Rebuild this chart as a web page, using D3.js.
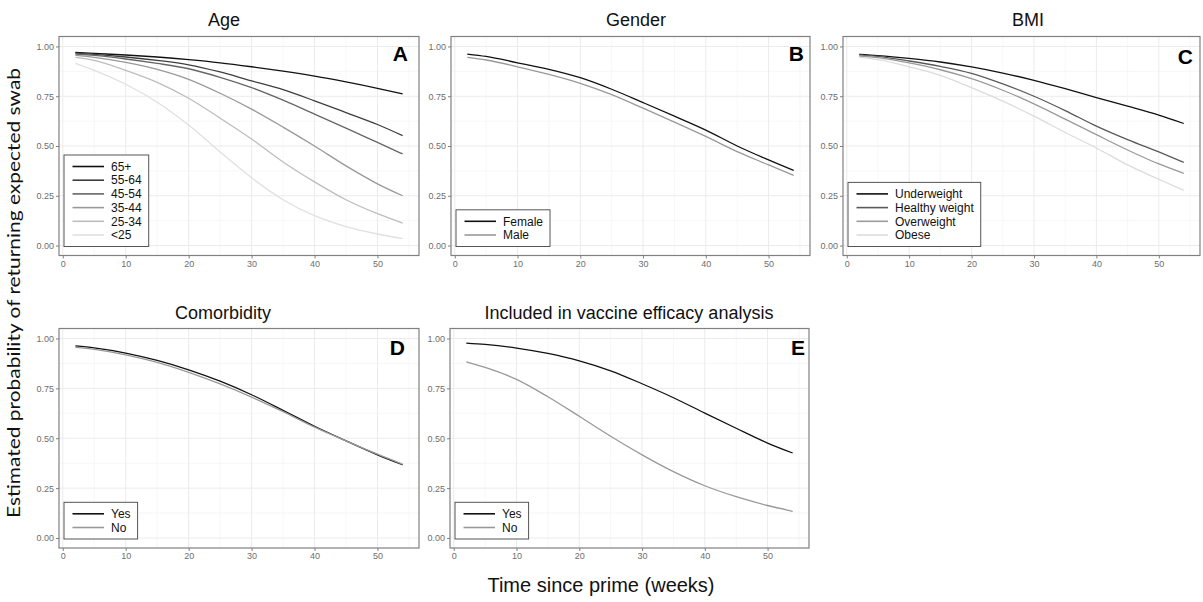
<!DOCTYPE html>
<html>
<head>
<meta charset="utf-8">
<script src="https://cdn.jsdelivr.net/npm/d3@7"></script>
<style>
body { margin: 0; background: #fff; }
text { font-family: "Liberation Sans", Arial, sans-serif; }
</style>
</head>
<body>
<div id="chart"></div>
<script>

// time points (weeks since prime)
var weeks = [2, 5, 10, 15, 20, 25, 30, 35, 40, 45, 50, 54];

// A - age
var ageNames = ["65+", "55-64", "45-54", "35-44", "25-34", "<25"];
var age65plus = [0.970, 0.965, 0.957, 0.947, 0.934, 0.918, 0.898, 0.876, 0.851, 0.822, 0.790, 0.762];
var age55_64  = [0.966, 0.960, 0.947, 0.930, 0.908, 0.872, 0.827, 0.783, 0.727, 0.668, 0.608, 0.552];
var age45_54  = [0.962, 0.955, 0.937, 0.915, 0.888, 0.845, 0.793, 0.730, 0.660, 0.590, 0.518, 0.460];
var age35_44  = [0.955, 0.945, 0.920, 0.885, 0.835, 0.765, 0.685, 0.595, 0.500, 0.400, 0.310, 0.250];
var age25_34  = [0.945, 0.930, 0.880, 0.820, 0.740, 0.640, 0.535, 0.420, 0.320, 0.230, 0.160, 0.113];
var ageUnder25 = [0.915, 0.880, 0.810, 0.720, 0.605, 0.470, 0.340, 0.230, 0.150, 0.095, 0.058, 0.035];

// B - gender
var genderNames = ["Female", "Male"];
var female = [0.962, 0.950, 0.918, 0.885, 0.843, 0.785, 0.718, 0.650, 0.580, 0.500, 0.430, 0.377];
var male   = [0.945, 0.932, 0.898, 0.860, 0.815, 0.758, 0.690, 0.620, 0.548, 0.472, 0.405, 0.352];

// C - BMI
var bmiNames = ["Underweight", "Healthy weight", "Overweight", "Obese"];
var underweight = [0.960, 0.954, 0.940, 0.922, 0.897, 0.866, 0.830, 0.788, 0.743, 0.700, 0.655, 0.613];
var healthy     = [0.958, 0.950, 0.927, 0.900, 0.865, 0.812, 0.750, 0.678, 0.600, 0.532, 0.470, 0.418];
var overweight  = [0.952, 0.944, 0.917, 0.883, 0.838, 0.780, 0.712, 0.635, 0.557, 0.480, 0.410, 0.363];
var obese       = [0.945, 0.934, 0.898, 0.855, 0.793, 0.725, 0.650, 0.568, 0.490, 0.405, 0.333, 0.277];

// D - comorbidity
var yesNo = ["Yes", "No"];
var comorbYes = [0.963, 0.953, 0.927, 0.890, 0.843, 0.786, 0.718, 0.640, 0.560, 0.487, 0.417, 0.367];
var comorbNo  = [0.955, 0.945, 0.918, 0.880, 0.830, 0.772, 0.706, 0.633, 0.556, 0.487, 0.420, 0.370];

// E - included in vaccine efficacy analysis
var vaccYes = [0.977, 0.970, 0.952, 0.925, 0.888, 0.838, 0.773, 0.703, 0.626, 0.550, 0.476, 0.426];
var vaccNo  = [0.883, 0.855, 0.795, 0.708, 0.610, 0.510, 0.417, 0.333, 0.262, 0.207, 0.163, 0.134];

// axis ticks
var xTicks = [0, 10, 20, 30, 40, 50];
var xMinor = [5, 15, 25, 35, 45, 55];
var yTicks = [0, 0.25, 0.5, 0.75, 1];
var yMinor = [0.125, 0.375, 0.625, 0.875];

// grey shades
var grey6 = ["#111111", "#3e3e3e", "#666666", "#999999", "#bdbdbd", "#e0e0e0"];
var grey4 = ["#111111", "#5a5a5a", "#9a9a9a", "#dcdcdc"];
var grey2 = ["#111111", "#999999"];


/***** drawing area *****/

var W = 1203, H = 602;

var svg = d3.select("#chart")
    .append("svg")
    .attr("width", W)
    .attr("height", H);

svg.append("rect").attr("width", W).attr("height", H).attr("fill", "#fff");

var panels = [
    {title: "Age", tx: 224, ty: 25.5, letter: "A", lx: 408, ly: 61,
     l: 59, r: 419, t: 36.5, b: 255.5,
     names: ageNames, series: [age65plus, age55_64, age45_54, age35_44, age25_34, ageUnder25], colors: grey6},
    {title: "Gender", tx: 636, ty: 25.5, letter: "B", lx: 804, ly: 61,
     l: 451, r: 810, t: 36.5, b: 255.5,
     names: genderNames, series: [female, male], colors: grey2},
    {title: "BMI", tx: 1028, ty: 25.5, letter: "C", lx: 1193, ly: 64,
     l: 843, r: 1200, t: 36.5, b: 255.5,
     names: bmiNames, series: [underweight, healthy, overweight, obese], colors: grey4},
    {title: "Comorbidity", tx: 223, ty: 319, letter: "D", lx: 405, ly: 355,
     l: 59, r: 419, t: 328.5, b: 548,
     names: yesNo, series: [comorbYes, comorbNo], colors: grey2},
    {title: "Included in vaccine efficacy analysis", tx: 629, ty: 319, letter: "E", lx: 805, ly: 355,
     l: 450, r: 809, t: 328.5, b: 548,
     names: yesNo, series: [vaccYes, vaccNo], colors: grey2}
];

panels.forEach(function(p){

    var x = d3.scaleLinear().domain([-0.6, 56.6]).range([p.l, p.r]);
    var y = d3.scaleLinear().domain([-0.05, 1.05]).range([p.b, p.t]);

    var g = svg.append("g");

    // grid
    g.selectAll(".xminor").data(xMinor.filter(function(d){ return x(d) < p.r; })).enter()
        .append("line")
        .attr("x1", function(d){ return x(d); }).attr("x2", function(d){ return x(d); })
        .attr("y1", p.t).attr("y2", p.b)
        .attr("stroke", "#f4f4f4").attr("stroke-width", 0.7);
    g.selectAll(".yminor").data(yMinor).enter()
        .append("line")
        .attr("y1", function(d){ return y(d); }).attr("y2", function(d){ return y(d); })
        .attr("x1", p.l).attr("x2", p.r)
        .attr("stroke", "#f4f4f4").attr("stroke-width", 0.7);
    g.selectAll(".xmajor").data(xTicks).enter()
        .append("line")
        .attr("x1", function(d){ return x(d); }).attr("x2", function(d){ return x(d); })
        .attr("y1", p.t).attr("y2", p.b)
        .attr("stroke", "#ebebeb").attr("stroke-width", 1);
    g.selectAll(".ymajor").data(yTicks).enter()
        .append("line")
        .attr("y1", function(d){ return y(d); }).attr("y2", function(d){ return y(d); })
        .attr("x1", p.l).attr("x2", p.r)
        .attr("stroke", "#ebebeb").attr("stroke-width", 1);

    // curves
    var line = d3.line()
        .x(function(d, i){ return x(weeks[i]); })
        .y(function(d){ return y(d); })
        .curve(d3.curveMonotoneX);

    p.series.forEach(function(s, i){
        g.append("path")
            .attr("d", line(s))
            .attr("fill", "none")
            .attr("stroke", p.colors[i])
            .attr("stroke-width", 1.3);
    });

    // border
    g.append("rect")
        .attr("x", p.l).attr("y", p.t)
        .attr("width", p.r - p.l).attr("height", p.b - p.t)
        .attr("fill", "none").attr("stroke", "#808080").attr("stroke-width", 1.2);

    // axes
    var ax = g.append("g").attr("transform", "translate(0," + p.b + ")")
        .call(d3.axisBottom(x).tickValues(xTicks).tickSize(3).tickPadding(2));
    var ay = g.append("g").attr("transform", "translate(" + p.l + ",0)")
        .call(d3.axisLeft(y).tickValues(yTicks).tickFormat(d3.format(".2f")).tickSize(3).tickPadding(2));
    [ax, ay].forEach(function(a){
        a.select(".domain").remove();
        a.selectAll(".tick line").attr("stroke", "#808080");
        a.selectAll(".tick text").attr("fill", "#6e6e6e").style("font-size", "9px")
            .style("font-family", "Liberation Sans, Arial, sans-serif");
    });

    // title
    g.append("text")
        .attr("x", p.tx).attr("y", p.ty)
        .attr("text-anchor", "middle")
        .style("font-size", "18px")
        .attr("fill", "#111")
        .text(p.title);

    // panel letter
    g.append("text")
        .attr("x", p.lx).attr("y", p.ly)
        .attr("text-anchor", "end")
        .style("font-size", "21px")
        .style("font-weight", "bold")
        .attr("fill", "#000")
        .text(p.letter);

    // legend
    var n = p.names.length;
    var lg = g.append("g");
    var box = lg.append("rect").attr("fill", "#fff").attr("stroke", "#555").attr("stroke-width", 1);
    var bh = 23 + (n - 1) * 13.7;
    var bx = p.l + 5, by = p.b - 9 - bh;
    var maxW = 0;
    p.names.forEach(function(nm, i){
        var cy = by + 11.5 + i * 13.7;
        lg.append("line")
            .attr("x1", bx + 8.5).attr("x2", bx + 40)
            .attr("y1", cy).attr("y2", cy)
            .attr("stroke", p.colors[i]).attr("stroke-width", 1.6);
        var t = lg.append("text")
            .attr("x", bx + 47).attr("y", cy + 4.2)
            .style("font-size", "12px")
            .attr("fill", "#111")
            .text(nm);
        maxW = Math.max(maxW, t.node().getComputedTextLength());
    });
    box.attr("x", bx).attr("y", by).attr("width", 47 + maxW + 7).attr("height", bh);
});

// shared axis titles
svg.append("text")
    .attr("transform", "translate(20,293) rotate(-90)")
    .attr("text-anchor", "middle")
    .style("font-family", "Lato, 'Open Sans', sans-serif")
    .style("font-size", "18px")
    .attr("textLength", 450)
    .attr("lengthAdjust", "spacingAndGlyphs")
    .attr("fill", "#111")
    .text("Estimated probability of returning expected swab");

svg.append("text")
    .attr("x", 601).attr("y", 592)
    .attr("text-anchor", "middle")
    .style("font-size", "20px")
    .attr("fill", "#111")
    .text("Time since prime (weeks)");

</script>
</body>
</html>
